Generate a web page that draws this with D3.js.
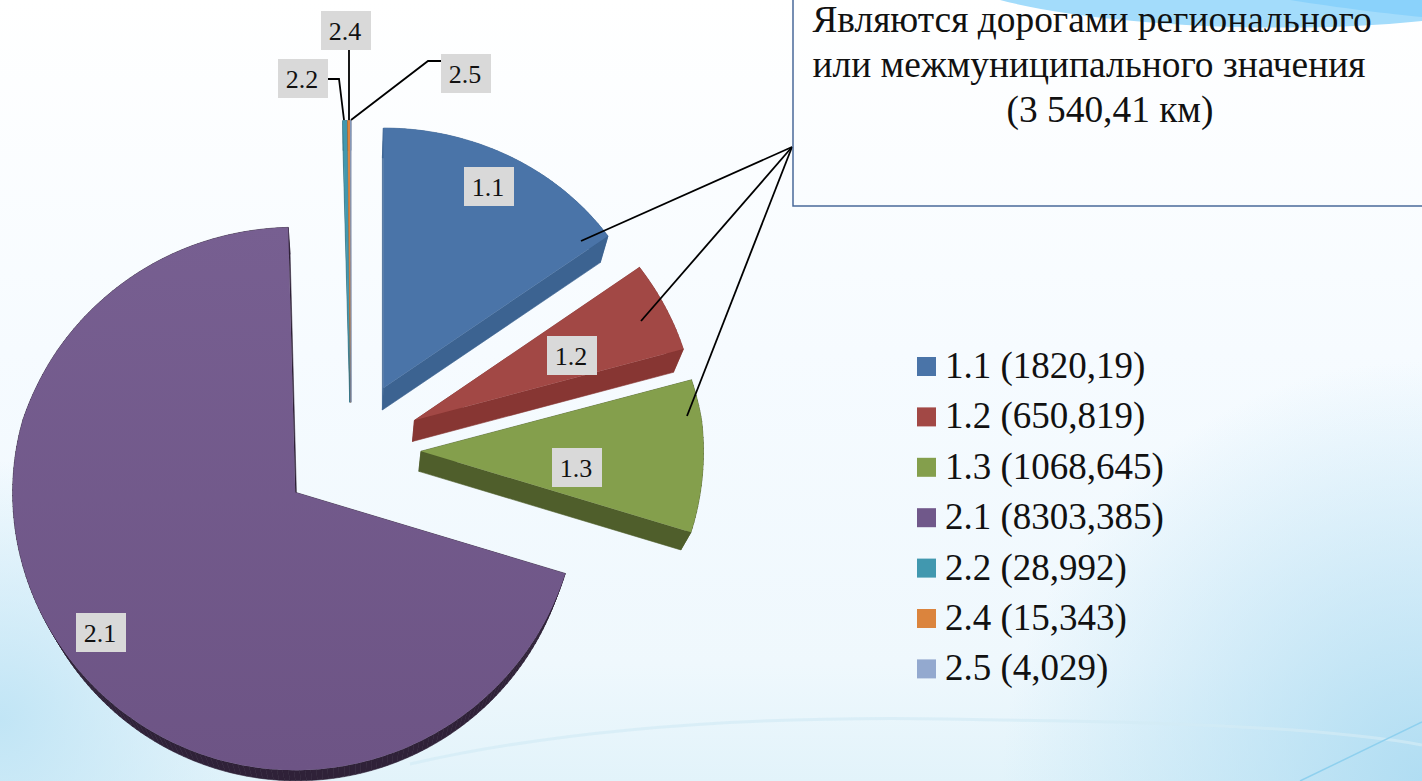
<!DOCTYPE html>
<html>
<head>
<meta charset="utf-8">
<script src="https://cdn.jsdelivr.net/npm/d3@7"></script>
<style>
  html, body { margin: 0; padding: 0; overflow: hidden; background: #fff; }
  text { font-family: "Liberation Serif", serif; fill: #111; }
</style>
</head>
<body>
<div id="canvas"></div>
<script>
// DATA
const categories = ["1.1", "1.2", "1.3", "2.1", "2.2", "2.4", "2.5"];
const values = [1820.19, 650.819, 1068.645, 8303.385, 28.992, 15.343, 4.029];
const valueLabels = ["1820,19", "650,819", "1068,645", "8303,385", "28,992", "15,343", "4,029"];
const topColors = ["#4a74a8", "#a24845", "#849f4c", "#70588a", "#4198af", "#db843d", "#93a9cf"];
const sideColors = ["#3c6391", "#873633", "#4f5e2b", "#2f2138", "#2f7285", "#a8652e", "#6f81a0"];
const calloutLines = ["Являются дорогами регионального", "или межмуниципального значения", "(3 540,41 км)"];

// DIMENSIONS
const width = 1422;
const height = 781;

const svg = d3.select("#canvas")
  .append("svg")
  .attr("width", width)
  .attr("height", height)
  .style("display", "block");

// BACKGROUND
const defs = svg.append("defs");

const bgV = defs.append("linearGradient").attr("id", "bgV")
  .attr("x1", 0).attr("y1", 0).attr("x2", 0).attr("y2", 1);
bgV.append("stop").attr("offset", "0").attr("stop-color", "#ffffff");
bgV.append("stop").attr("offset", "0.45").attr("stop-color", "#f6fbff");
bgV.append("stop").attr("offset", "0.85").attr("stop-color", "#eff8fd");
bgV.append("stop").attr("offset", "1").attr("stop-color", "#e2f3fa");

function cornerGlow(id, cx, cy, r, colour) {
  const g = defs.append("radialGradient").attr("id", id)
    .attr("gradientUnits", "userSpaceOnUse")
    .attr("cx", cx).attr("cy", cy).attr("r", r);
  g.append("stop").attr("offset", "0").attr("stop-color", colour).attr("stop-opacity", 0.95);
  g.append("stop").attr("offset", "1").attr("stop-color", colour).attr("stop-opacity", 0);
  svg.append("rect").attr("width", width).attr("height", height).attr("fill", `url(#${id})`);
}

svg.append("rect").attr("width", width).attr("height", height).attr("fill", "url(#bgV)");
cornerGlow("glowR", width, height, 420, "#aedcf2");
cornerGlow("glowL", 0, 720, 260, "#bfe4f5");

// top right wave
svg.append("path")
  .attr("d", "M1000,0 C1090,24 1280,36 1422,21 L1422,0 Z")
  .attr("fill", "#a3dcfb");
svg.append("path")
  .attr("d", "M1290,0 C1340,8 1390,14 1422,17 L1422,0 Z")
  .attr("fill", "#8ad2fb");

// bottom curves
svg.append("path")
  .attr("d", "M410,764 C620,716 860,716 1000,720 C1200,722 1340,730 1422,745")
  .attr("fill", "none").attr("stroke", "#d3ebf5").attr("stroke-width", 3).attr("opacity", 0.7);
svg.append("line")
  .attr("x1", 1422).attr("y1", 722).attr("x2", 1300).attr("y2", 781)
  .attr("stroke", "#8fd0ee").attr("stroke-width", 1.5);

// the big slice is a little lighter towards the top
const bigFill = defs.append("linearGradient").attr("id", "bigFill")
  .attr("gradientUnits", "userSpaceOnUse")
  .attr("x1", 0).attr("y1", 224).attr("x2", 0).attr("y2", 770);
bigFill.append("stop").attr("offset", "0").attr("stop-color", "#775f91");
bigFill.append("stop").attr("offset", "1").attr("stop-color", "#6d5485");

// PIE LAYOUT
const pie = d3.pie().sort(null).value(d => d.value);
const slices = pie(categories.map((c, i) => ({ name: c, value: values[i] })));

const scaleTop = d3.scaleOrdinal().domain(categories).range(topColors);
const scaleSide = d3.scaleOrdinal().domain(categories).range(sideColors);

const center = { x: 351, y: 450 };
const explode = 70;
const rx = 283;
const ry = 272;
const vanish = { x: 350, y: 1123 };      // side walls run towards this point
const depth = 0.03;

// the far part of the pie is drawn smaller than the near part
const shrinkY = d3.scaleLinear().domain([113, 225, 270, 350, 770]).range([0.955, 0.975, 0.985, 1, 1.022]);
const shrinkX = d3.scaleLinear().domain([113, 270, 420, 800]).range([0.96, 0.97, 0.998, 1]);

const apexOf = d => {
  const mid = (d.startAngle + d.endAngle) / 2;
  return { x: center.x + explode * Math.sin(mid), y: center.y - explode * Math.cos(mid) };
};

function rimPoint(d, angle) {
  const a = apexOf(d);
  const flatY = a.y - ry * Math.cos(angle);
  return {
    x: a.x + rx * Math.sin(angle) * shrinkX(flatY),
    y: a.y - ry * Math.cos(angle) * shrinkY(flatY)
  };
}

const extrude = p => ({ x: p.x + depth * (vanish.x - p.x), y: p.y + depth * (vanish.y - p.y) });

function outline(d) {
  const n = Math.max(2, Math.ceil((d.endAngle - d.startAngle) / 0.02));
  const rim = d3.range(n + 1).map(i => rimPoint(d, d.startAngle + (d.endAngle - d.startAngle) * i / n));
  return [apexOf(d), ...rim];
}

const line = d3.line().x(p => p.x).y(p => p.y);

// VISUALISATION
const pieGroup = svg.append("g");

// walls first, one quad along every edge of the outline
slices.forEach(d => {
  const pts = outline(d);
  pieGroup.append("g")
    .selectAll("path")
    .data(pts.map((p, i) => [p, pts[(i + 1) % pts.length]]))
    .join("path")
    .attr("d", e => line([e[0], e[1], extrude(e[1]), extrude(e[0])]) + "Z")
    .attr("fill", scaleSide(d.data.name))
    .attr("stroke", scaleSide(d.data.name))
    .attr("stroke-width", 0.6);
});

pieGroup.append("g")
  .selectAll("path")
  .data(slices)
  .join("path")
  .attr("d", d => line(outline(d)) + "Z")
  .attr("fill", d => d.data.name === "2.1" ? "url(#bigFill)" : scaleTop(d.data.name));

// LEADER LINES
const leaders = [
  [[792, 147], [581, 241]],
  [[792, 147], [641, 321]],
  [[792, 147], [687, 416]],
  [[328, 79], [339, 79], [344, 120]],
  [[349, 50], [349, 120]],
  [[441, 61], [428, 61], [351, 120]]
];
svg.append("g")
  .selectAll("path")
  .data(leaders)
  .join("path")
  .attr("d", d3.line())
  .attr("fill", "none")
  .attr("stroke", "#000")
  .attr("stroke-width", 1.8);

// DATA LABELS
const labelBoxes = { "1.1": [464, 167], "1.2": [547, 336], "1.3": [552, 448], "2.1": [76, 613], "2.2": [278, 59], "2.4": [321, 11], "2.5": [441, 54] };
const labels = svg.append("g")
  .selectAll("g")
  .data(categories)
  .join("g")
  .attr("transform", d => `translate(${labelBoxes[d][0]},${labelBoxes[d][1]})`);
labels.append("rect").attr("width", 50).attr("height", 39).attr("fill", "#d9d9d9");
labels.append("text")
  .attr("x", 24).attr("y", 29)
  .attr("text-anchor", "middle")
  .attr("font-size", 26)
  .text(d => d);

// CALLOUT
svg.append("path")
  .attr("d", "M793,-2 V206 H1424")
  .attr("fill", "none")
  .attr("stroke", "#4a6a9a")
  .attr("stroke-width", 1.5);

svg.append("g")
  .selectAll("text")
  .data(calloutLines)
  .join("text")
  .attr("x", (d, i) => [1092, 1089, 1110][i])
  .attr("y", (d, i) => [32, 77, 122][i])
  .attr("text-anchor", "middle")
  .attr("font-size", 37.4)
  .text(d => d);

// LEGEND
const legend = svg.append("g")
  .selectAll("g")
  .data(categories)
  .join("g")
  .attr("transform", (d, i) => `translate(917,${357 + i * 50.4})`);
legend.append("rect")
  .attr("width", 19).attr("height", 19)
  .attr("fill", d => scaleTop(d));
legend.append("text")
  .attr("x", 28).attr("y", 21)
  .attr("font-size", 37)
  .text((d, i) => `${d} (${valueLabels[i]})`);
</script>
</body>
</html>
